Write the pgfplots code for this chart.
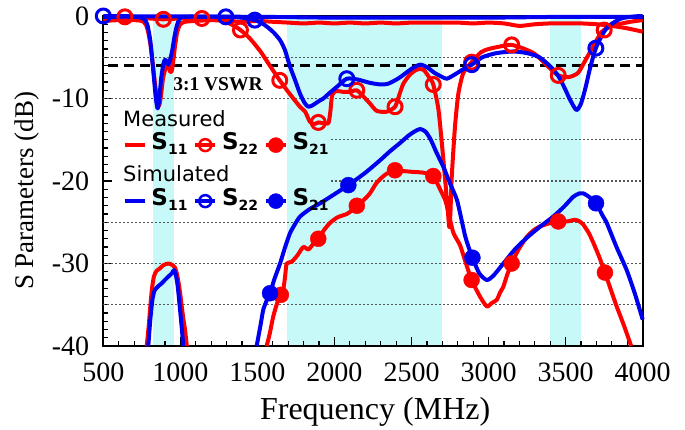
\documentclass[border=0pt]{standalone}
\usepackage{fontspec}
\setmainfont{Liberation Serif}
\newfontfamily\legfont{DejaVu Sans}
\usepackage{pgfplots}
\pgfplotsset{compat=1.18}
\definecolor{band}{HTML}{C8F9F9}
\definecolor{cred}{HTML}{FF0000}
\definecolor{cblue}{HTML}{0000F0}
\definecolor{gridc}{HTML}{555555}
\newcommand{\sparm}[1]{{\legfont\fontsize{23bp}{24bp}\selectfont\bfseries S\raisebox{-5bp}{\fontsize{14bp}{14bp}\selectfont #1}}}

\begin{document}
\begin{tikzpicture}
\begin{axis}[
  at={(0,0)}, anchor=south west,
  scale only axis, width=539.4bp, height=330bp,
  xmin=500, xmax=4000, ymin=-40, ymax=0,
  set layers=standard, clip=false,
  xtick={500,1000,...,4000},
  xticklabels={500,1000,1500,2000,2500,3000,3500,4000},
  ytick={-40,-30,-20,-10,0},
  yticklabels={-40,-30,-20,-10,0},
  minor x tick num=4, minor y tick num=9,
  tick pos=left, tick align=inside,
  major tick length=9bp, minor tick length=5bp,
  tick style={black, line width=1.2bp},
  axis line style={black, line width=2bp},
  tick label style={font=\fontsize{28bp}{30bp}\selectfont, inner sep=0pt},
  xticklabel style={anchor=north, yshift=-17bp},
  yticklabel style={anchor=east, xshift=-14bp},
  xlabel={Frequency (MHz)}, ylabel={S Parameters (dB)},
  xlabel style={font=\fontsize{32bp}{34bp}\selectfont, at={(axis description cs:0.504,-0.222)}, anchor=base},
  ylabel style={font=\fontsize{27bp}{29bp}\selectfont, at={(axis description cs:-0.142,0.47)}, anchor=center},
  legend columns=3,
  legend style={at={(axis description cs:0.0365,0.639)}, anchor=north west,
    draw=none, fill=none, inner sep=0pt, outer sep=0pt, row sep=36bp,
    nodes={inner sep=0pt, text height=14bp, text depth=6bp},
    /tikz/every even column/.append style={column sep=6bp},
    /tikz/every odd column/.append style={column sep=5bp}},
  legend image code/.code={\draw[mark repeat=2,mark phase=2,#1] plot coordinates {(0bp,0bp) (10bp,0bp) (20bp,0bp)};},
  every axis plot/.append style={line join=round},
]
% frequency bands
\addplot[fill=band, draw=none, on layer=axis background, forget plot] coordinates {(820,0) (960,0) (960,-40) (820,-40)};
\addplot[fill=band, draw=none, on layer=axis background, forget plot] coordinates {(1690,0) (2700,0) (2700,-40) (1690,-40)};
\addplot[fill=band, draw=none, on layer=axis background, forget plot] coordinates {(3400,0) (3600,0) (3600,-40) (3400,-40)};
% grid lines
\addplot[gridc, line width=1.3bp, dash pattern=on 1.5bp off 2.5bp, forget plot] coordinates {(500,-5) (4000,-5)};
\addplot[gridc, line width=1.3bp, dash pattern=on 1.5bp off 2.5bp, forget plot] coordinates {(500,-10) (4000,-10)};
\addplot[gridc, line width=1.3bp, dash pattern=on 1.5bp off 2.5bp, forget plot] coordinates {(1978,-15) (4000,-15)};
\addplot[gridc, line width=1.3bp, dash pattern=on 1.5bp off 2.5bp, forget plot] coordinates {(1978,-20) (4000,-20)};
\addplot[gridc, line width=1.3bp, dash pattern=on 1.5bp off 2.5bp, forget plot] coordinates {(500,-25) (4000,-25)};
\addplot[gridc, line width=1.3bp, dash pattern=on 1.5bp off 2.5bp, forget plot] coordinates {(500,-30) (4000,-30)};
\addplot[gridc, line width=1.3bp, dash pattern=on 1.5bp off 2.5bp, forget plot] coordinates {(500,-35) (4000,-35)};
\addplot[black, line width=2.5bp, dash pattern=on 10bp off 6bp, forget plot] coordinates {(530,-6) (4000,-6)};

% measured S11
\addplot[cred, line width=4bp, smooth, tension=0.4, forget plot] coordinates {
(500,-0.6)(600,-0.5)(700,-0.5)(750,-0.6)(775,-1.0)(792,-2.0)(810,-4.0)(828,-7.0)(845,-9.6)(860,-10.9)(872,-10.0)(887,-7.6)(900,-6.6)(915,-5.9)(925,-6.2)(935,-6.8)(945,-6.6)(955,-5.3)(965,-3.7)(980,-1.9)(1000,-1.0)(1030,-0.7)(1100,-0.6)(1200,-0.5)(1300,-0.6)(1400,-0.7)(1500,-0.6)(1600,-0.7)(1700,-0.8)(1800,-0.9)(1900,-0.8)(2000,-0.9)(2100,-0.8)(2200,-0.9)(2300,-0.8)(2400,-0.9)(2500,-0.8)(2600,-0.8)(2700,-0.8)(2800,-0.8)(2900,-0.9)(3000,-0.8)(3100,-0.9)(3200,-1.2)(3300,-1.0)(3400,-0.9)(3500,-0.9)(3600,-0.9)(3700,-1.0)(3800,-1.2)(3900,-1.5)(4000,-1.9)};
% measured S22
\addplot[cred, line width=4bp, smooth, tension=0.4, forget plot] coordinates {
(500,-0.3)(640,-0.1)(800,-0.3)(890,-0.4)(1000,-0.3)(1140,-0.3)(1250,-0.5)(1330,-1.0)(1390,-1.7)(1450,-2.7)(1520,-4.3)(1580,-6.0)(1645,-7.8)(1700,-9.2)(1776,-11.0)(1810,-11.6)(1840,-12.8)(1870,-13.1)(1895,-12.9)(1930,-13.0)(1960,-13.0)(1972,-11.8)(1985,-9.6)(2010,-9.1)(2060,-9.2)(2100,-9.2)(2145,-9.0)(2190,-9.8)(2230,-10.6)(2274,-11.5)(2339,-11.6)(2393,-11.0)(2420,-9.6)(2447,-8.2)(2490,-7.1)(2534,-6.5)(2577,-6.5)(2620,-7.6)(2641,-8.3)(2675,-11.4)(2707,-17.5)(2735,-23.5)(2745,-25.6)(2752,-24.0)(2761,-19.5)(2782,-13.4)(2804,-9.4)(2836,-6.9)(2890,-5.6)(2950,-4.4)(3000,-4.0)(3100,-3.6)(3150,-3.5)(3220,-3.9)(3300,-4.6)(3390,-6.2)(3452,-7.2)(3520,-7.4)(3580,-6.9)(3630,-5.3)(3690,-3.3)(3730,-2.0)(3755,-1.6)(3820,-1.1)(3920,-0.7)(4000,-0.5)};
\addplot[cred, only marks, mark=o, mark size=7bp, line width=3bp, forget plot] coordinates {
(640,-0.1)(890,-0.4)(1140,-0.3)(1390,-1.7)(1645,-7.8)(1895,-12.9)(2145,-9.0)(2393,-11.0)(2641,-8.3)(2890,-5.6)(3150,-3.5)(3452,-7.2)(3750,-1.7)};
% measured S21
\addplot[cred, line width=4bp, smooth, tension=0.4, forget plot] coordinates {
(782,-40)(795,-37.5)(805,-35.2)(815,-33.2)(828,-31.6)(845,-30.9)(867,-30.6)(890,-30.2)(922,-30.0)(950,-30.2)(965,-30.5)(978,-31.3)(990,-32.5)(1000,-33.8)(1009,-35.2)(1020,-36.8)(1030,-38.0)(1042,-40)};
\addplot[cred, line width=4bp, smooth, tension=0.4, forget plot] coordinates {
(1560,-40)(1580,-38.5)(1603,-36.4)(1630,-34.7)(1652,-33.8)(1668,-33.2)(1680,-31.5)(1690,-30.0)(1722,-29.8)(1760,-29.0)(1798,-28.0)(1831,-28.3)(1863,-27.6)(1895,-27.0)(1930,-26.0)(1970,-25.1)(2020,-24.4)(2080,-24.0)(2110,-23.6)(2145,-23.0)(2190,-22.3)(2230,-21.5)(2270,-20.3)(2300,-19.7)(2340,-19.1)(2393,-18.7)(2450,-18.8)(2512,-18.9)(2580,-19.0)(2641,-19.4)(2685,-21.0)(2720,-22.4)(2745,-24.3)(2772,-26.3)(2815,-27.8)(2850,-29.8)(2890,-32.0)(2944,-34.0)(2988,-35.2)(3020,-34.8)(3053,-34.4)(3075,-33.5)(3096,-32.8)(3120,-31.4)(3150,-30.0)(3180,-28.8)(3204,-28.0)(3247,-26.8)(3290,-26.0)(3334,-25.5)(3400,-25.1)(3452,-24.9)(3510,-24.9)(3561,-24.7)(3590,-24.9)(3615,-25.3)(3650,-26.3)(3680,-27.5)(3720,-29.3)(3755,-31.1)(3790,-33.0)(3831,-35.2)(3880,-37.6)(3925,-40)};
\addplot[cred, only marks, mark=*, mark size=8bp, forget plot] coordinates {
(1652,-33.8)(1895,-27.0)(2145,-23.0)(2393,-18.7)(2641,-19.4)(2890,-32.0)(3150,-30.0)(3452,-24.9)(3755,-31.1)};

% simulated S11
\addplot[cblue, line width=4bp, smooth, tension=0.4, forget plot] coordinates {
(500,-0.1)(700,-0.1)(760,-0.3)(785,-1.0)(805,-3.0)(825,-6.8)(840,-9.8)(852,-11.2)(862,-10.3)(876,-7.5)(890,-5.8)(900,-5.3)(912,-5.5)(922,-5.9)(935,-5.2)(948,-4.1)(962,-2.5)(978,-1.1)(995,-0.4)(1030,-0.1)(1500,-0.1)(2000,-0.2)(2500,-0.2)(3000,-0.2)(3500,-0.1)(4000,-0.1)};
% simulated S22
\addplot[cblue, line width=4bp, smooth, tension=0.4, forget plot] coordinates {
(500,0)(800,-0.05)(1000,-0.05)(1295,-0.1)(1400,-0.2)(1483,-0.5)(1540,-1.0)(1600,-1.9)(1646,-2.9)(1678,-4.1)(1711,-6.1)(1745,-7.8)(1776,-9.4)(1805,-10.5)(1830,-11.0)(1860,-10.8)(1900,-10.3)(1928,-10.0)(1970,-9.3)(2015,-8.6)(2080,-7.6)(2150,-7.7)(2230,-8.1)(2300,-8.3)(2350,-8.2)(2420,-7.5)(2500,-6.4)(2555,-5.9)(2600,-6.2)(2650,-6.9)(2700,-7.4)(2730,-7.6)(2780,-7.1)(2840,-6.4)(2891,-5.9)(2960,-5.0)(3050,-4.5)(3160,-4.3)(3250,-4.5)(3330,-5.0)(3400,-6.1)(3450,-7.2)(3490,-8.6)(3530,-10.2)(3570,-11.4)(3600,-10.6)(3630,-8.6)(3660,-6.2)(3696,-3.9)(3740,-2.2)(3780,-1.2)(3860,-0.3)(3950,-0.05)(4000,0)};
\addplot[cblue, only marks, mark=o, mark size=7bp, line width=3bp, forget plot] coordinates {
(500,0)(1295,-0.1)(1483,-0.5)(2080,-7.6)(2891,-5.9)(3696,-3.9)};
% simulated S21
\addplot[cblue, line width=4bp, smooth, tension=0.4, forget plot] coordinates {
(792,-40)(805,-36.8)(820,-34.2)(835,-33.2)(860,-32.7)(879,-32.4)(910,-31.8)(944,-31.2)(959,-30.8)(970,-31.3)(983,-32.8)(998,-35.6)(1010,-38)(1019,-40)};
\addplot[cblue, line width=4bp, smooth, tension=0.4, forget plot] coordinates {
(1495,-40)(1520,-37.5)(1538,-35.6)(1560,-34.5)(1582,-33.6)(1610,-31.9)(1647,-30.0)(1680,-28.0)(1712,-26.3)(1745,-25.2)(1777,-24.3)(1840,-23.4)(1907,-22.7)(2000,-21.6)(2090,-20.5)(2200,-19.0)(2295,-17.5)(2360,-16.4)(2425,-15.4)(2480,-14.5)(2520,-14.0)(2555,-13.7)(2590,-14.0)(2625,-15.0)(2663,-16.6)(2707,-18.3)(2750,-20.3)(2793,-22.2)(2815,-23.9)(2847,-26.6)(2870,-28.0)(2895,-29.3)(2940,-31.2)(2988,-32.0)(3030,-31.5)(3096,-30.0)(3170,-28.3)(3247,-26.9)(3330,-25.6)(3420,-24.3)(3490,-23.1)(3550,-21.9)(3590,-21.5)(3615,-21.5)(3650,-21.9)(3697,-22.7)(3740,-24.2)(3767,-25.1)(3830,-28.0)(3896,-30.8)(3950,-33.7)(4000,-36.8)};
\addplot[cblue, only marks, mark=*, mark size=8bp, forget plot] coordinates {
(1582,-33.6)(2090,-20.5)(2895,-29.3)(3697,-22.7)};

% legend
\addlegendimage{cred, line width=3.5bp}
\addlegendentry{\sparm{11}}
\addlegendimage{cred, line width=3.5bp, mark=o, mark size=6bp, mark options={line width=2.5bp}}
\addlegendentry{\sparm{22}}
\addlegendimage{cred, line width=3.5bp, mark=*, mark size=7.5bp, mark options={line width=0.5bp}}
\addlegendentry{\sparm{21}}
\addlegendimage{cblue, line width=3.5bp}
\addlegendentry{\sparm{11}}
\addlegendimage{cblue, line width=3.5bp, mark=o, mark size=6bp, mark options={line width=2.5bp}}
\addlegendentry{\sparm{22}}
\addlegendimage{cblue, line width=3.5bp, mark=*, mark size=7.5bp, mark options={line width=0.5bp}}
\addlegendentry{\sparm{21}}

\node[anchor=base west, inner sep=0pt, font=\legfont\fontsize{21bp}{22bp}\selectfont] at (axis cs:628,-13.45) {Measured};
\node[anchor=base west, inner sep=0pt, font=\legfont\fontsize{21bp}{22bp}\selectfont] at (axis cs:628,-20.12) {Simulated};
\node[anchor=base, inner sep=0pt, font=\bfseries\fontsize{19.5bp}{20bp}\selectfont] at (axis cs:1244,-8.97) {3:1 VSWR};
\end{axis}
\pgfresetboundingbox
\path[use as bounding box] (-103.3bp,-84bp) rectangle (581.7bp,346bp);
\end{tikzpicture}
\end{document}
